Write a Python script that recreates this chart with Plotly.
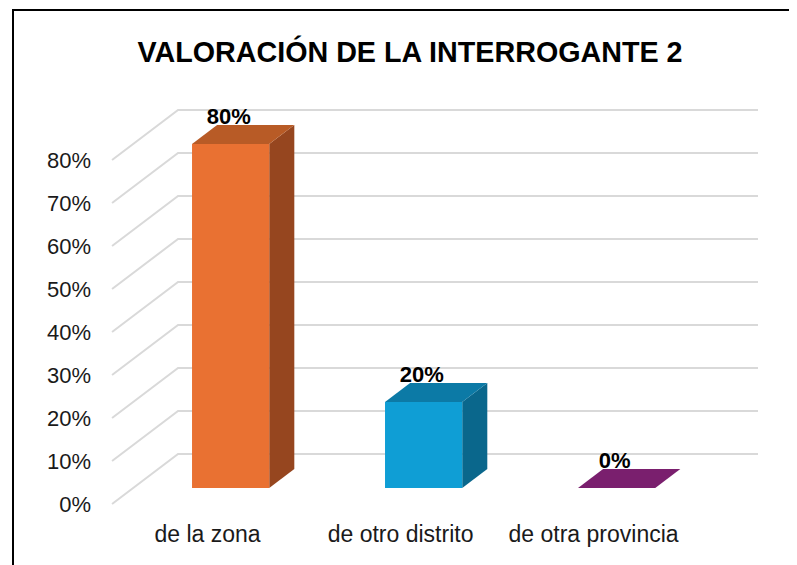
import plotly.graph_objects as go

# ---- data ----
categories = ["de la zona", "de otro distrito", "de otra provincia"]
values = [80, 20, 0]
value_labels = ["80%", "20%", "0%"]
grid_values = [0, 10, 20, 30, 40, 50, 60, 70, 80]
tick_labels = ["0%", "10%", "20%", "30%", "40%", "50%", "60%", "70%", "80%"]
title_text = "VALORACIÓN DE LA INTERROGANTE 2"

front_colors = ["#E97132", "#0F9ED5", "#A02B93"]
top_colors = ["#B85B26", "#0C7AA6", "#7A1F6E"]
side_colors = ["#96461F", "#0A678C", "#6A1B60"]

# ---- 3D oblique projection parameters (data units) ----
DX = 0.342      # floor depth, horizontal (category units)
DY = 11.63      # floor depth, vertical (percent units)
F0 = 0.32       # depth fraction of bar front
F1 = 0.70       # depth fraction of bar back
HW = 0.20       # half bar width
X_LEFT = -0.505
X_MIN, X_MAX = -0.5674, 2.842
Y_MIN, Y_MAX = -2.558, 96.28

# page offset (body margin) compensation
OFF = 8
ML, MR, MT, MB = 100 - OFF, 39 + OFF, 90 - OFF, 50 + OFF
PW = 797 - ML - MR
PH = 565 - MT - MB

fig = go.Figure()

# back wall gridlines + floor-side diagonals
for g in grid_values:
    fig.add_trace(go.Scatter(
        x=[X_LEFT, X_LEFT + DX, X_MAX],
        y=[g, g + DY, g + DY],
        mode="lines", line=dict(color="#D9D9D9", width=2),
        hoverinfo="skip", showlegend=False))

# bars
for i, (v, fc, tc, sc) in enumerate(zip(values, front_colors, top_colors, side_colors)):
    xl0 = i - HW + F0 * DX
    xr0 = i + HW + F0 * DX
    xl1 = i - HW + F1 * DX
    xr1 = i + HW + F1 * DX
    yb0 = F0 * DY
    yb1 = F1 * DY
    if v > 0:
        fig.add_trace(go.Scatter(
            x=[xr0, xr1, xr1, xr0, xr0],
            y=[yb0, yb1, v + yb1, v + yb0, yb0],
            fill="toself", fillcolor=sc, mode="lines", line=dict(width=0, color=sc),
            hoverinfo="skip", showlegend=False))
        fig.add_trace(go.Scatter(
            x=[xl0, xr0, xr0, xl0, xl0],
            y=[yb0, yb0, v + yb0, v + yb0, yb0],
            fill="toself", fillcolor=fc, mode="lines", line=dict(width=0, color=fc),
            hoverinfo="skip", showlegend=False))
    fig.add_trace(go.Scatter(
        x=[xl0, xr0, xr1, xl1, xl0],
        y=[v + yb0, v + yb0, v + yb1, v + yb1, v + yb0],
        fill="toself", fillcolor=tc, mode="lines", line=dict(width=0, color=tc),
        hoverinfo="skip", showlegend=False))

# data labels
fig.add_trace(go.Scatter(
    x=[i + F0 * DX - 0.01 for i in range(len(values))],
    y=[v + F1 * DY + 1.6 for v in values],
    text=value_labels, mode="text",
    textfont=dict(family="Liberation Sans, Arial, sans-serif", size=22, color="#000000"),
    texttemplate="<b>%{text}</b>",
    hoverinfo="skip", showlegend=False))

fig.update_layout(
    width=797, height=565,
    margin=dict(l=ML, r=MR, t=MT, b=MB),
    paper_bgcolor="#FFFFFF", plot_bgcolor="#FFFFFF",
    font=dict(family="Liberation Sans, Arial, sans-serif", color="#000000"),
    title=dict(text="<b>" + title_text + "</b>", x=(410 - OFF) / 797, xanchor="center",
               y=1 - (52 - OFF) / 565, yanchor="middle", yref="container",
               font=dict(size=28.7, color="#000000")),
    xaxis=dict(range=[X_MIN, X_MAX], showgrid=False, zeroline=False, showline=False,
               tickmode="array", tickvals=[i - 0.01 for i in range(len(categories))],
               ticktext=categories,
               ticks="", tickfont=dict(size=23, color="#1A1A1A"), ticklabelstandoff=3,
               fixedrange=True),
    yaxis=dict(range=[Y_MIN, Y_MAX], showgrid=False, zeroline=False, showline=False,
               tickmode="array", tickvals=grid_values, ticktext=tick_labels,
               ticks="", tickfont=dict(size=22, color="#1A1A1A"), ticklabelstandoff=8,
               fixedrange=True),
    shapes=[dict(type="rect", xref="paper", yref="paper",
                 x0=(13 - OFF - ML) / PW, x1=(820 - ML) / PW,
                 y0=(MT + PH - 600) / PH, y1=(MT + PH - (10 - OFF)) / PH,
                 line=dict(color="#000000", width=2), fillcolor="rgba(0,0,0,0)",
                 layer="below")],
)

fig.write_html("out.html")
